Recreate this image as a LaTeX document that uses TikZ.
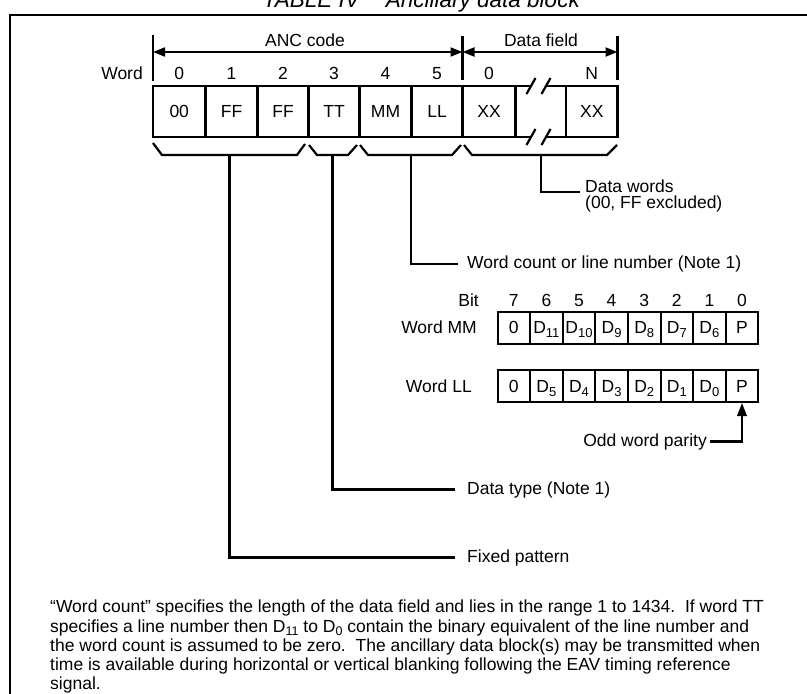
\documentclass[tikz,border=0pt]{standalone}
\usepackage{fontspec}
\setmainfont{Liberation Sans}
\usetikzlibrary{arrows.meta}
\newcommand\Dsb[1]{D\raisebox{-4pt}{\fontsize{13}{13}\selectfont #1}}
\newcommand\Dps[1]{D\raisebox{-3.4pt}{\fontsize{12.5}{12.5}\selectfont #1}}
\begin{document}
\begin{tikzpicture}[x=1pt,y=-1pt,
  lbl/.style={font=\fontsize{17.5}{19}\selectfont, inner sep=0pt},
  wbox/.style={draw, line width=2.2pt, minimum height=51pt, inner sep=0pt, text height=12.6pt, text depth=0pt, font=\fontsize{17.5}{19}\selectfont},
  bbox/.style={draw, line width=2pt, minimum width=32.6pt, inner sep=0pt, text height=12.6pt, text depth=0pt, font=\fontsize{17.5}{19}\selectfont},
  ln/.style={line width=2.2pt},
  dimarr/.style={line width=2pt, {Triangle[length=12pt,width=9pt]}-{Triangle[length=12pt,width=9pt]}},
  pararr/.style={line width=2.2pt, -{Triangle[length=13pt,width=9.5pt]}},
]
\useasboundingbox (0,0) rectangle (807,694);
\clip (0,0) rectangle (807,694);
\fill[white] (0,0) rectangle (807,694);

% title (cut by the top edge, as in the reference) and frame
\node[font=\fontsize{22.5}{24}\selectfont\itshape, inner sep=0pt, anchor=base east] (title) at (580,7) {TABLE IV\hspace{26pt}Ancillary data block};
\draw[line width=2.6pt] (10,700) -- (10,15) -- (812,15);

% dimension ticks and arrows
\draw[ln] (153,35) -- (153,81);
\draw[ln] (462.5,36) -- (462.5,80);
\draw[ln] (617.5,36) -- (617.5,80);
\coordinate (tl) at (153,52);
\coordinate (tm) at (462.5,52);
\coordinate (tr) at (617.5,52);
\draw[dimarr] (tl) -- (tm);
\draw[dimarr] (tm) -- (tr);
\node[lbl, anchor=base] (anc) at (305,46.5) {ANC code};
\node[lbl, anchor=base] (dfield) at (541,46.5) {Data field};

% word numbers
\node[lbl, anchor=base east] (word) at (143,79.5) {Word};
\node[lbl, anchor=base] (n0) at (179.25,79.5) {0};
\node[lbl, anchor=base] (n1) at (231.5,79.5) {1};
\node[lbl, anchor=base] (n2) at (283,79.5) {2};
\node[lbl, anchor=base] (n3) at (334,79.5) {3};
\node[lbl, anchor=base] (n4) at (385.5,79.5) {4};
\node[lbl, anchor=base] (n5) at (437,79.5) {5};
\node[lbl, anchor=base] (n6) at (489,79.5) {0};
\node[lbl, anchor=base] (n7) at (591.75,79.5) {N};

% word boxes
\node[wbox, minimum width=52.5pt] (w0) at (179.25,111.5) {00};
\node[wbox, minimum width=52pt] (w1) at (231.5,111.5) {FF};
\node[wbox, minimum width=51pt] (w2) at (283,111.5) {FF};
\node[wbox, minimum width=51pt] (w3) at (334,111.5) {TT};
\node[wbox, minimum width=52pt] (w4) at (385.5,111.5) {MM};
\node[wbox, minimum width=51pt] (w5) at (437,111.5) {LL};
\node[wbox, minimum width=53pt] (w6) at (489,111.5) {XX};
\node[wbox, minimum width=51.5pt] (w7) at (591.75,111.5) {XX};

% broken part of the data field
\draw[ln] (515.5,86) -- (531,86);
\draw[ln] (546,86) -- (566,86);
\draw[ln] (526.5,94) -- (535.5,78);
\draw[ln] (541.5,94) -- (550.5,78);
\draw[ln] (515.5,137) -- (531,137);
\draw[ln] (546,137) -- (566,137);
\draw[ln] (526.5,145) -- (535.5,129);
\draw[ln] (541.5,145) -- (550.5,129);

% braces
\draw[ln] (153,143) -- (162,155) -- (297,155) -- (305,144);
\draw[ln] (309,145) -- (317,155) -- (348,155) -- (357,145);
\draw[ln] (360,145) -- (368,155) -- (452,155) -- (461,145);
\draw[ln] (464,145) -- (472,155) -- (607,155) -- (617,145);
\coordinate (bc1) at (229.5,155);
\coordinate (bc2) at (332.5,155);
\coordinate (bc3) at (411,155);
\coordinate (bc4) at (541,155);

% callout labels
\node[lbl, anchor=base west] (dw) at (585,192) {Data words};
\node[lbl, anchor=base west] (dx) at (585,208.5) {(00, FF excluded)};
\node[lbl, anchor=base west] (wc) at (467,268.3) {Word count or line number (Note 1)};
\node[lbl, anchor=base west] (dt) at (467,494) {Data type (Note 1)};
\node[lbl, anchor=base west] (fp) at (467,562) {Fixed pattern};

\draw[ln] (bc4) |- ([xshift=-5pt,yshift=-6pt]dw.west);
\draw[ln] (bc3) |- ([xshift=-9pt]wc.west);
\draw[ln] (bc2) |- ([xshift=-12pt]dt.west);
\draw[ln] (bc1) |- ([xshift=-12pt]fp.west);

% bit layout
\node[lbl, anchor=base east] (bit) at (479,306.3) {Bit};
\foreach \i/\b in {0/7,1/6,2/5,3/4,4/3,5/2,6/1,7/0}
  \node[lbl, anchor=base] (bn\i) at ({513.8+32.6*\i},306.3) {\b};
\node[lbl, anchor=base east] (wmm) at (477,333.8) {Word MM};
\node[lbl, anchor=base east] (wll) at (472,392) {Word LL};
\foreach \i/\t in {0/0,1/\Dsb{11},2/\Dsb{10},3/\Dsb{9},4/\Dsb{8},5/\Dsb{7},6/\Dsb{6},7/P}
  \node[bbox, minimum height=32pt] (mm\i) at ({513.8+32.6*\i},327.5) {\t};
\foreach \i/\t in {0/0,1/\Dsb{5},2/\Dsb{4},3/\Dsb{3},4/\Dsb{2},5/\Dsb{1},6/\Dsb{0},7/P}
  \node[bbox, minimum height=32.5pt] (ll\i) at ({513.8+32.6*\i},385.75) {\t};

\node[lbl, anchor=base east] (par) at (707,446) {Odd word parity};
\draw[pararr] ([xshift=3pt]par.east) -| (ll7.south);

% note
\node[lbl, anchor=north west, align=left, font=\fontsize{17.5}{19.2}\selectfont] (note) at (50,600) {%
“Word count” specifies the length of the data field and lies in the range 1 to 1434.\ \ If word TT\\
specifies a line number then \Dps{11} to \Dps{0} contain the binary equivalent of the line number and\\
the word count is assumed to be zero.\ \ The ancillary data block(s) may be transmitted when\\
time is available during horizontal or vertical blanking following the EAV timing reference\\
signal.};
\end{tikzpicture}
\end{document}
